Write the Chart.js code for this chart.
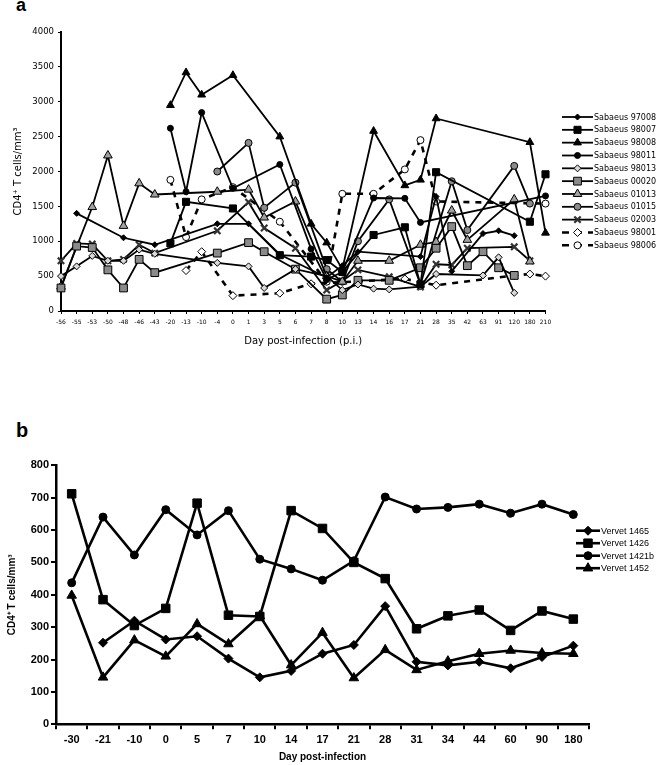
<!DOCTYPE html>
<html>
<head>
<meta charset="utf-8">
<script src="https://cdn.jsdelivr.net/npm/chart.js@4.4.0/dist/chart.umd.min.js"></script>
<style>
  html, body { margin: 0; padding: 0; background: #fff; }
  body { width: 656px; height: 765px; position: relative; overflow: hidden; }
  .panel { position: absolute; left: 0; }
  .tag { position: absolute; font-family: 'Liberation Sans', Arial, sans-serif; font-weight: bold; color: #000; line-height: 1; }
</style>
</head>
<body>
<div class="tag" style="left:16px; top:-4px; font-size:18px;">a</div>
<div class="tag" style="left:16px; top:420px; font-size:20px;">b</div>
<div class="panel" style="top:0; width:656px; height:352px;"><canvas id="chart-a"></canvas></div>
<div class="panel" style="top:380px; width:656px; height:385px;"><canvas id="chart-b"></canvas></div>
<script>
// ── Panel a: Sabaeus, day post-infection ─────────────────────────────────
// groups of columns: [-56..-43] [-20..-4] [0..8] [10..21] [28..210]
const DAYS_A = ['-56','-55','-53','-50','-48','-46','-43',
                '-20','-13','-10','-4',
                '0','1','3','5','6','7','8',
                '10','13','14','16','17','21',
                '28','35','42','63','91','120','180','210'];

const SAB_97008 = [null,1400,null,null,1050,null,950,  null,null,null,1250,
                   null,1250,null,810,null,null,480,   650,850,null,null,null,780,
                   1640,570,null,1110,1150,1080,null,null];
const SAB_98007 = [null,null,null,null,null,null,null, 970,1565,null,null,
                   1470,null,null,800,null,780,730,    560,null,1090,null,1200,380,
                   1990,null,null,null,null,null,1280,1960];
const SAB_98008 = [null,null,null,null,null,null,null, 2950,3420,3100,null,
                   3380,null,null,2500,null,1250,980,  600,null,2580,null,1800,1880,
                   2760,null,null,null,null,null,2420,1120];
const SAB_98011 = [null,null,null,null,null,null,null, 2620,1710,2845,null,
                   1760,null,null,2100,null,890,450,   560,null,1620,null,1615,1270,
                   null,null,null,null,null,null,null,1650];
const SAB_98013 = [500,640,790,720,720,880,820,        null,null,null,690,
                   null,640,330,null,600,null,500,     300,380,320,310,null,350,
                   530,null,null,510,770,260,null,null];
const SAB_00020 = [330,930,910,590,330,740,550,        null,null,null,830,
                   null,980,850,null,600,null,170,     230,440,null,440,null,620,
                   900,1210,650,850,620,510,null,null];
const SAB_01013 = [350,null,1490,2230,1220,1830,1670,  null,null,null,1710,
                   null,1740,1340,null,1570,null,500,  420,720,null,720,null,950,
                   990,1440,1020,null,null,1600,710,null];
const SAB_01015 = [null,null,null,null,null,null,null, null,null,null,2000,
                   null,2410,1480,null,1840,null,600,  420,1000,null,1600,null,380,
                   null,1860,1160,null,null,2080,1540,null];
const SAB_02003 = [720,970,960,720,740,950,830,        null,null,null,1150,
                   null,1560,1190,null,900,null,300,   430,590,null,490,null,345,
                   670,660,900,null,null,920,720,null];
const SAB_98001 = [null,null,null,null,null,null,null, null,580,850,null,
                   220,null,null,255,null,390,null,    null,null,null,null,460,null,
                   370,null,null,null,null,510,530,500];
const SAB_98006 = [null,null,null,null,null,null,null, 1880,1060,1600,null,
                   1775,null,null,1280,null,null,420,  1680,null,1680,null,2030,2450,
                   1570,null,null,null,null,null,null,1540];

// ── Panel b: Vervet ─────────────────────────────────────────────────────
const DAYS_B = ['-30','-21','-10','0','5','7','10','14','17','21','28','31','34','44','60','90','180'];
const VER_1465  = [null,252,320,262,272,203,145,165,218,245,365,193,182,193,173,208,243];
const VER_1426  = [712,385,305,358,683,337,333,660,605,500,450,295,335,353,290,350,325];
const VER_1421B = [437,640,523,663,585,660,510,480,445,505,702,665,670,680,652,680,648];
const VER_1452  = [398,145,260,210,310,248,335,183,283,143,230,168,195,218,228,220,218];

const GREY = '#8a8a8a';
const SANS = "'DejaVu Sans', sans-serif";
const ARIAL = "'Liberation Sans', Arial, sans-serif";

// legend drawn to the right: line – marker – line, then the name
const sideLegend = {
  id: 'sideLegend',
  afterDraw(chart, args, opts) {
    if (!opts || opts.x0 == null) return;
    const ctx = chart.ctx;
    ctx.save();
    chart.data.datasets.forEach((ds, i) => {
      const y = opts.top + i * opts.step;
      const mid = (opts.x0 + opts.x1) / 2;
      ctx.strokeStyle = '#000';
      ctx.lineWidth = ds.borderWidth;
      ctx.setLineDash(ds.borderDash ? opts.dash : []);
      ctx.beginPath();
      ctx.moveTo(opts.x0, y);
      ctx.lineTo(opts.x1, y);
      ctx.stroke();
      ctx.setLineDash([]);
      ctx.fillStyle = ds.pointBackgroundColor;
      ctx.strokeStyle = ds.pointBorderColor;
      ctx.lineWidth = ds.pointBorderWidth;
      Chart.helpers.drawPoint(ctx, {
        pointStyle: ds.pointStyle, radius: ds.pointRadius, rotation: 0, borderWidth: ds.pointBorderWidth,
      }, mid, y);
      ctx.fillStyle = '#000';
      ctx.font = opts.font;
      ctx.textAlign = 'left';
      ctx.textBaseline = 'middle';
      ctx.fillText(ds.label, opts.x1 + 1, y + 0.5);
    });
    ctx.restore();
  },
};

function series(label, data, style, radius, fill, dashed, extra) {
  return Object.assign({
    label, data,
    borderColor: '#000',
    borderWidth: dashed ? 2.6 : 1.8,
    borderDash: dashed ? [6, 6] : undefined,
    pointStyle: style,
    pointRadius: radius,
    pointBackgroundColor: fill,
    pointBorderColor: '#000',
    pointBorderWidth: 1,
    spanGaps: true,
    tension: 0,
    fill: false,
    clip: false,
  }, extra || {});
}

const plain = v => String(v);

Chart.defaults.color = '#000';
Chart.defaults.animation = false;

// ── chart a ─────────────────────────────────────────────────────────────
new Chart(document.getElementById('chart-a'), {
  type: 'line',
  data: {
    labels: DAYS_A,
    datasets: [
      series('Sabaeus 97008', SAB_97008, 'rectRot', 3, '#000'),
      series('Sabaeus 98007', SAB_98007, 'rect', 5, '#000'),
      series('Sabaeus 98008', SAB_98008, 'triangle', 4.5, '#000'),
      series('Sabaeus 98011', SAB_98011, 'circle', 3, '#000'),
      series('Sabaeus 98013', SAB_98013, 'rectRot', 3.5, '#d8d8d8'),
      series('Sabaeus 00020', SAB_00020, 'rect', 5.5, GREY),
      series('Sabaeus 01013', SAB_01013, 'triangle', 5, '#a0a0a0'),
      series('Sabaeus 01015', SAB_01015, 'circle', 3.5, GREY),
      series('Sabaeus 02003', SAB_02003, 'crossRot', 4.5, '#444', false, { pointBorderColor: '#333', pointBorderWidth: 2.2 }),
      series('Sabaeus 98001', SAB_98001, 'rectRot', 4, '#fff', true),
      series('Sabaeus 98006', SAB_98006, 'circle', 3.5, '#fff', true),
    ],
  },
  options: {
    responsive: true,
    maintainAspectRatio: false,
    devicePixelRatio: 1,
    layout: { padding: { left: 0, top: 32, right: 110.5, bottom: 0 } },
    plugins: {
      legend: { display: false },
      tooltip: { enabled: false },
      sideLegend: { x0: 562, x1: 593, top: 117, step: 12.83, dash: [7, 6], font: `8px ${SANS}` },
    },
    scales: {
      x: {
        offset: false,
        afterFit: s => { s.height = 41; },
        border: { display: true, color: '#000', width: 2 },
        grid: { display: true, drawOnChartArea: false, drawTicks: true, tickLength: 3, color: '#000', lineWidth: 1, offset: false },
        ticks: { autoSkip: false, maxRotation: 0, padding: 5, font: { family: SANS, size: 6 } },
        title: { display: true, text: 'Day post-infection (p.i.)', font: { family: SANS, size: 10 }, padding: { top: 0, bottom: 5 } },
      },
      y: {
        min: 0, max: 4000,
        afterFit: s => { s.width = 61; },
        border: { display: true, color: '#000', width: 2 },
        grid: { display: true, drawOnChartArea: false, drawTicks: true, tickLength: 3, color: '#000', lineWidth: 1 },
        ticks: { stepSize: 500, padding: 4, callback: plain, font: { family: SANS, size: 8.5 } },
        title: { display: true, text: 'CD4⁺ T cells/mm³', font: { family: SANS, size: 10 }, padding: { top: 12, bottom: 0 } },
      },
    },
  },
  plugins: [sideLegend],
});

// ── chart b ─────────────────────────────────────────────────────────────
function vervet(label, data, style, radius) {
  return {
    label, data,
    borderColor: '#000',
    borderWidth: 2.6,
    pointStyle: style,
    pointRadius: radius,
    pointBackgroundColor: '#000',
    pointBorderColor: '#000',
    pointBorderWidth: 1,
    spanGaps: true,
    tension: 0,
    fill: false,
    clip: false,
  };
}

new Chart(document.getElementById('chart-b'), {
  type: 'line',
  data: {
    labels: DAYS_B,
    datasets: [
      vervet('Vervet 1465', VER_1465, 'rectRot', 4.5),
      vervet('Vervet 1426', VER_1426, 'rect', 6),
      vervet('Vervet 1421b', VER_1421B, 'circle', 4),
      vervet('Vervet 1452', VER_1452, 'triangle', 5.5),
    ],
  },
  options: {
    responsive: true,
    maintainAspectRatio: false,
    devicePixelRatio: 1,
    layout: { padding: { left: 0, top: 85.3, right: 67, bottom: 0 } },
    plugins: {
      legend: { display: false },
      tooltip: { enabled: false },
      sideLegend: { x0: 576, x1: 600, top: 150.7, step: 12.5, dash: [], font: `9px ${ARIAL}` },
    },
    scales: {
      x: {
        offset: true,
        afterFit: s => { s.height = 40.7; },
        border: { display: true, color: '#000', width: 2.5 },
        grid: { display: true, drawOnChartArea: false, drawTicks: true, tickLength: 5, color: '#000', lineWidth: 2, offset: true },
        ticks: { autoSkip: false, maxRotation: 0, padding: 4, font: { family: ARIAL, size: 11, weight: 'bold' } },
        title: { display: true, text: 'Day post-infection', font: { family: ARIAL, size: 10, weight: 'bold' }, padding: { top: 0, bottom: 2 } },
      },
      y: {
        min: 0, max: 800,
        afterFit: s => { s.width = 56; },
        border: { display: true, color: '#000', width: 2.5 },
        grid: { display: true, drawOnChartArea: false, drawTicks: true, tickLength: 5, color: '#000', lineWidth: 2 },
        ticks: { stepSize: 100, padding: 2, callback: plain, font: { family: ARIAL, size: 11, weight: 'bold' } },
        title: { display: true, text: 'CD4⁺ T cells/mm³', font: { family: ARIAL, size: 10, weight: 'bold' }, padding: { top: 6, bottom: 0 } },
      },
    },
  },
  plugins: [sideLegend],
});
</script>
</body>
</html>
